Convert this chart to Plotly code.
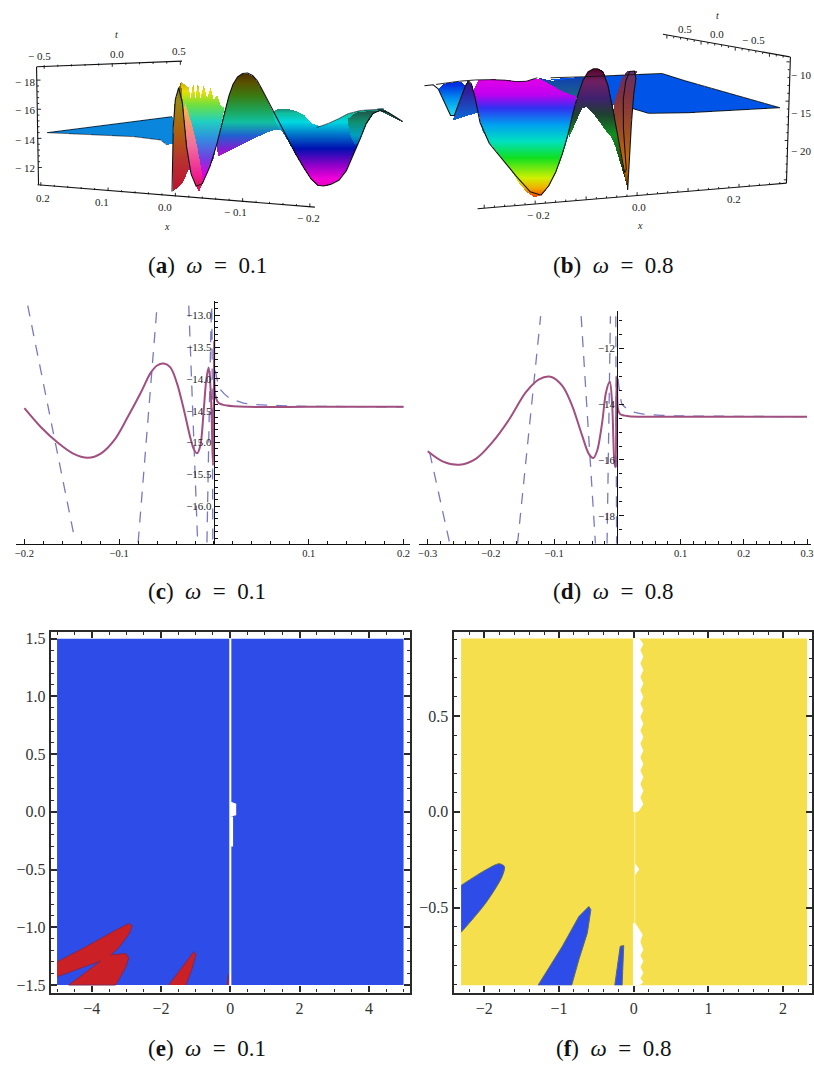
import numpy as np
import plotly.graph_objects as go

W, H = 814, 1068
FONT = "Liberation Serif"

# ---------- panel (c) values
c_solid_x = [-0.2,-0.1825,-0.165,-0.149,-0.133,-0.119,-0.105,-0.091,-0.077,-0.067,-0.06,-0.053,-0.046,-0.039,-0.032,-0.025,-0.0214,-0.0179,-0.0144,-0.011,-0.008,-0.0056,-0.0032,-0.001,0.0,0.0003,0.0014,0.005,0.0137,0.035,0.1,0.2]
c_solid_y = [-14.46,-14.76,-15.0,-15.17,-15.24,-15.17,-14.96,-14.60,-14.21,-13.91,-13.79,-13.76,-13.82,-14.07,-14.47,-14.92,-15.10,-15.17,-15.05,-14.53,-14.0,-13.82,-14.26,-15.36,-14.2,-13.4,-14.26,-14.38,-14.42,-14.44,-14.44,-14.44]
c_dash_x = [-0.1965,-0.147,None,-0.08,-0.06,None,-0.0266,-0.0172,None,-0.0074,-0.0025,-0.0012,None,0.0014,0.006,0.016,0.031,0.05,0.07,0.09,0.2]
c_dash_y = [-12.85,-16.51,None,-16.57,-12.85,None,-12.85,-16.57,None,-16.57,-12.85,-16.57,None,-13.87,-14.15,-14.3,-14.38,-14.41,-14.42,-14.43,-14.44]

# ---------- panel (d) values
d_solid_x = [-0.3,-0.2757,-0.25,-0.224,-0.198,-0.171,-0.145,-0.124,-0.1056,-0.087,-0.0715,-0.0557,-0.045,-0.038,-0.032,-0.024,-0.018,-0.012,-0.0084,-0.0047,-0.003,-0.0016,-0.0005,0.001,0.0047,0.018,0.049,0.3]
d_solid_y = [-15.69,-16.06,-16.17,-15.96,-15.37,-14.54,-13.58,-13.11,-13.02,-13.35,-14.06,-15.13,-15.79,-15.93,-15.67,-14.65,-13.58,-13.2,-13.94,-16.08,-16.26,-13.7,-13.0,-14.18,-14.36,-14.43,-14.45,-14.45]
d_dash_x = [-0.297,-0.265,None,-0.158,-0.1214,None,-0.0573,-0.0347,None,-0.0163,-0.011,None,-0.0025,-0.0012,None,0.001,0.0074,0.02,0.0415,0.07,0.0914,0.3]
d_dash_y = [-15.73,-19.0,None,-19.0,-10.85,None,-10.85,-19.0,None,-19.0,-10.85,None,-10.85,-19.0,None,-13.1,-14.0,-14.24,-14.36,-14.4,-14.42,-14.45]

# ---------- panel (e) regions
e_x_lim = [-5, 5]
e_y_lim = [-1.5, 1.5]
e_red1_x = [-5,-4.22,-3.36,-2.93,-2.83,-2.93,-3.22,-3.45,-3.02,-2.93,-3.02,-3.31,-4.66,-3.74,-5]
e_red1_y = [-1.30,-1.177,-1.033,-0.967,-0.99,-1.062,-1.177,-1.24,-1.226,-1.264,-1.35,-1.5,-1.5,-1.292,-1.428]
e_red2_x = [-1.775,-1.055,-0.99,-1.11,-1.28]
e_red2_y = [-1.5,-1.212,-1.235,-1.365,-1.5]
e_red3_x = [-0.09,-0.06,-0.02]
e_red3_y = [-1.5,-1.41,-1.5]
e_gap_x = [-0.03,-0.03,0.03,0.03,0.08,0.08,0.03,0.03]
e_gap_y = [1.5,-1.5,-1.5,-0.30,-0.30,-0.04,-0.04,1.5]
e_gap2_x = [0.0,0.17,0.17,0.0]
e_gap2_y = [-0.04,-0.03,0.07,0.09]

# ---------- panel (f) regions
f_x_lim = [-2.31, 2.32]
f_y_lim = [-0.905, 0.905]
f_blue1_x = [-2.31,-1.98,-1.80,-1.73,-1.76,-1.98,-2.31]
f_blue1_y = [-0.384,-0.303,-0.271,-0.285,-0.337,-0.476,-0.629]
f_blue2_x = [-1.28,-0.955,-0.733,-0.6,-0.573,-0.62,-0.733,-0.83]
f_blue2_y = [-0.905,-0.702,-0.546,-0.494,-0.511,-0.632,-0.771,-0.905]
f_blue3_x = [-0.253,-0.18,-0.133,-0.155]
f_blue3_y = [-0.905,-0.702,-0.698,-0.905]
f_gap_right_x = [0.08,0.13,0.09,0.13,0.09,0.13,0.09,0.13,0.09,0.13,0.09,0.13,0.09,0.13,0.09,0.13,0.09,0.13,0.09,0.13,0.09,0.13,0.09,0.13,0.09,0.13,0.07,0.02,
                 0.02,0.075,0.02,0.02,0.12,0.09,0.13,0.09,0.13,0.09,0.13,0.09,0.13,0.08]
f_gap_right_y = [0.905,0.875,0.845,0.81,0.775,0.74,0.705,0.67,0.635,0.60,0.565,0.53,0.495,0.46,0.425,0.39,0.355,0.32,0.285,0.25,0.215,0.18,0.145,0.11,0.075,0.04,0.005,-0.005,
                 -0.27,-0.30,-0.33,-0.58,-0.64,-0.68,-0.72,-0.75,-0.78,-0.81,-0.84,-0.87,-0.89,-0.905]
f_gap_left_x = [-0.01,-0.01,0.012,0.012,-0.01,-0.01]
f_gap_left_y = [-0.905,-0.58,-0.58,0.0,0.0,0.905]

# ---------- panel (a) surface patches, height read on the projected plane
a_wedge_u = [140,515,520,500,480,400]
a_wedge_v = [393,345,425,430,415,405]
a_left_u = [515,520,540,565,548,530]
a_left_v = [570,310,240,500,540,560]
a_comb_u = [540,565,570,578,585,592,600,610,620,630,640,650,660,672,640,595,565]
a_comb_v = [240,258,290,245,290,243,290,250,290,258,295,280,310,320,470,572,500]
a_pink_u = [545,565,595,610,585]
a_pink_v = [270,500,572,540,400]
a_peak_u = [640,680,705,735,765,790,850,835,790,700]
a_peak_v = [470,300,230,210,225,270,390,380,395,440]
a_trough_u = [815,900,950,1000,1060,1150,1110,1070,1030,980,945,900,850,830]
a_trough_v = [318,325,378,360,328,322,340,440,530,555,550,480,390,370]
a_right_u = [1040,1150,1110,1070,1050]
a_right_v = [335,322,340,440,400]
a_tail_u = [1135,1155,1210,1180]
a_tail_v = [322,322,360,345]
a_front_u = [515,520,540,565,595,640,680,705,735,765,790,850,900,945,980,1030,1070,1110,1150,1210]
a_front_v = [570,310,240,500,572,470,300,230,210,225,270,390,480,550,555,530,440,340,322,360]
a_back_u = [950,1000,1060,1150]
a_back_v = [378,360,328,322]

# ---------- panel (b) surface patches
b_flat_u = [425,525,760,830,1115,840,720,670,615,600]
b_flat_v = [232,225,215,237,318,333,335,320,310,300]
b_lobe_u = [80,175,150,130,105]
b_lobe_v = [248,235,300,355,300]
b_dark_u = [175,130,210,190]
b_dark_v = [235,355,330,250]
b_back_u = [385,430,525,525,505,430]
b_back_v = [228,238,228,305,290,260]
b_main_u = [185,270,340,385,430,480,505,470,430,385,340,300,220,210]
b_main_v = [238,233,242,228,255,280,285,430,540,595,565,500,400,350]
b_peak_u = [470,500,530,560,590,620,657,640,610,590,555,525,505]
b_peak_v = [430,300,215,197,215,360,565,510,410,390,340,310,350]
b_thin_u = [657,625,615,640,655,685,672]
b_thin_v = [565,400,310,230,210,207,300]
b_front_u = [45,80,105,130,150,175,190,220,300,385,430,470,500,530,560,590,620,657,640,655,685,672,657]
b_front_v = [252,248,300,355,300,235,250,400,500,595,540,430,300,215,197,215,360,565,320,210,207,300,565]
b_edge_u = [425,525,760,830,1115,840,720,670]
b_edge_v = [228,225,215,237,318,333,335,320]
b_edge2_u = [80,175,270,340,385]
b_edge2_v = [248,235,233,242,228]

# ---------- tick labels
a_x_ticks = [0.2,0.1,0.0,-0.1,-0.2]
a_t_ticks = [-0.5,0.0,0.5]
a_z_ticks = [-18,-16,-14,-12]
b_x_ticks = [-0.2,0.0,0.2]
b_t_ticks = [0.5,0.0,-0.5]
b_z_ticks = [-10,-15,-20]
captions = [("a",207,264),("b",615,264),("c",207,591),("d",615,591),("e",207,1049),("f",615,1049)]
caption_omega = ["0.1","0.8","0.1","0.8","0.1","0.8"]

fig = go.Figure()
layout = dict(width=W, height=H, margin=dict(l=0,r=0,t=0,b=0), autosize=False,
              paper_bgcolor="white", plot_bgcolor="rgba(0,0,0,0)", showlegend=False,
              font=dict(family=FONT, color="#222"))
ann = []

def dx(p0, p1): return [p0/W, min(p1/W,1.0)]
def dy(p_top, p_bot): return [1-p_bot/H, 1-p_top/H]

# ---- skew panels a / b live on a projected plane measured in thirds of a pixel
for name, left, width in (("1",0,410),("2",410,404)):
    layout["xaxis"+name] = dict(domain=dx(left,left+width), range=[0,width*3], visible=False, anchor="y"+name)
    layout["yaxis"+name] = dict(domain=dy(0,240), range=[720,0], visible=False, anchor="x"+name)

def round_corners(pu, pv, closed=True, passes=2):
    """Corner rounding of an outline, as the surface mesh is a smooth sheet."""
    u, v = list(pu), list(pv)
    for _ in range(passes):
        nu, nv = [], []
        n = len(u)
        if not closed:
            nu.append(u[0]); nv.append(v[0])
        for i in range(n if closed else n-1):
            j = (i+1) % n
            nu += [0.75*u[i]+0.25*u[j], 0.25*u[i]+0.75*u[j]]
            nv += [0.75*v[i]+0.25*v[j], 0.25*v[i]+0.75*v[j]]
        if not closed:
            nu.append(u[-1]); nv.append(v[-1])
        u, v = nu, nv
    return u, v

def inside(uu, vv, pu, pv):
    res = np.zeros(uu.shape, bool)
    n = len(pu)
    for i in range(n):
        u1,v1,u2,v2 = pu[i],pv[i],pu[(i+1)%n],pv[(i+1)%n]
        if v1 == v2: continue
        cond = ((v1 > vv) != (v2 > vv)) & (uu < (u2-u1)*(vv-v1)/(v2-v1)+u1)
        res ^= cond
    return res

def patch(ax, pu, pv, stops, height, passes=1):
    """Surface patch: height colours via the trace's colorscale."""
    pu, pv = round_corners(pu, pv, True, passes)
    us = np.arange(min(pu), max(pu)+3, 3.0)
    vs = np.arange(min(pv), max(pv)+3, 3.0)
    uu, vv = np.meshgrid(us, vs)
    z = np.round(height(vv), 2).astype(object)
    z[~inside(uu, vv, pu, pv)] = None
    hs = [float(height(np.array(s[0],float))) for s in stops]
    lo, hi = min(hs), max(hs)
    if lo == hi: hi = lo+1
    cs = sorted([[(h-lo)/(hi-lo), s[1]] for h, s in zip(hs, stops)], key=lambda c: c[0])
    fig.add_trace(go.Heatmap(x=us, y=vs, z=z.tolist(), colorscale=cs, zmin=lo, zmax=hi,
                             showscale=False, hoverinfo="skip", xaxis="x"+ax, yaxis="y"+ax))

def line(ax, u, v, color="black", w=1.2):
    fig.add_trace(go.Scatter(x=u, y=v, mode="lines", line=dict(color=color, width=w),
                             hoverinfo="skip", xaxis="x"+ax, yaxis="y"+ax, connectgaps=False))

def edge(ax, u, v, color="#111", w=1.1, passes=1):
    ru, rv = round_corners(u, v, False, passes)
    line(ax, ru, rv, color, w)

def skew_axis(ax, p0, p1, v0, v1, step, tick, major_every=5):
    """axis line from value v0 at p0 to value v1 at p1, with ticks every `step`."""
    n = int(round(abs(v1-v0)/step))
    us, vs = [], []
    for i in range(n+1):
        f = i/n
        u = p0[0]+(p1[0]-p0[0])*f; v = p0[1]+(p1[1]-p0[1])*f
        k = 1.0 if i % major_every == 0 else 0.55
        us += [u, u+tick[0]*k, None]; vs += [v, v+tick[1]*k, None]
    line(ax, us, vs, "#111", 0.9)

def label(ax, u, v, text, size=11, italic=False):
    ann.append(dict(x=u, y=v, xref="x"+ax, yref="y"+ax, text=("<i>%s</i>"%text if italic else text),
                    showarrow=False, font=dict(size=size, family=FONT, color="#222"),
                    xanchor="center", yanchor="middle"))

def fmt(v, d=1):
    s = f"{abs(v):.{d}f}"
    return ("\u2212 "+s) if v < 0 else s

# panel a
ah = lambda v: -18+(v-235)*6/263
patch("1", a_wedge_u, a_wedge_v, [(300,"#0a86dc"),(500,"#0a86dc")], ah, 0)
patch("1", a_comb_u, a_comb_v, [(240,"#d0a020"),(270,"#e8e000"),(310,"#70e040"),(360,"#20d0c0"),(410,"#3090e0"),(470,"#7040e0"),(520,"#e000e0"),(572,"#e81060")], ah, 0)
patch("1", a_pink_u, a_pink_v, [(270,"#f0e040"),(350,"#f8a060"),(430,"#f070a0"),(520,"#f02090"),(572,"#d01040")], ah)
patch("1", a_peak_u, a_peak_v, [(210,"#4a2800"),(240,"#5a5000"),(280,"#3a7a10"),(320,"#20a050"),(360,"#10c0a0"),(400,"#2060d0"),(440,"#8020d0"),(470,"#d010c0")], ah)
patch("1", a_trough_u, a_trough_v, [(318,"#208070"),(335,"#10c0a0"),(360,"#00d8e0"),(400,"#0070c8"),(440,"#0010b0"),(490,"#9000c8"),(530,"#f000d8"),(555,"#e800c0")], ah)
patch("1", a_right_u, a_right_v, [(320,"#204a40"),(360,"#109070"),(400,"#00a0c0"),(440,"#0040c0")], ah)
patch("1", a_tail_u, a_tail_v, [(300,"#1a5a50"),(400,"#1a5a50")], ah, 0)
patch("1", a_left_u, a_left_v, [(240,"#7a6a00"),(300,"#9a8a10"),(400,"#b05a10"),(480,"#b83030"),(570,"#c01030")], ah, 0)
edge("1", a_front_u, a_front_v)
edge("1", a_back_u, a_back_v, "#123", 0.7)
line("1", [140,515], [393,345], "#123", 0.9)
line("1", [140,400,480,500], [393,405,415,430], "#123", 0.7)
# axes a
line("1", [108,545], [195,178], "#111", 1.1)
line("1", [107,113], [195,550], "#111", 1.1)
line("1", [110,945], [550,617], "#111", 1.1)
skew_axis("1", (120,553), (930,617), 0.2, -0.2, 0.02, (0,-11))
skew_axis("1", (130,190), (540,178), -0.5, 0.5, 0.1, (0,11))
skew_axis("1", (108,235), (112,498), -18, -12, 0.4, (11,0))
for v,u_,y_ in zip(a_x_ticks,[125,305,495,705,925],[590,602,617,632,650]):
    label("1",u_,y_,fmt(v))
for v,u_,y_ in zip(a_t_ticks,[115,350,537],[163,157,148]):
    label("1",u_,y_,fmt(v))
for v,y_ in zip(a_z_ticks,[240,325,414,498]):
    label("1",72,y_,fmt(v,0))
label("1",348,98,"t",10,True)
label("1",500,676,"x",10,True)

# panel b
bh = lambda v: -10-(v-217)*10/230
patch("2", b_flat_u, b_flat_v, [(200,"#0055e8"),(340,"#0055e8")], bh, 0)
patch("2", b_back_u, b_back_v, [(228,"#1040b0"),(305,"#207080")], bh, 0)
patch("2", b_lobe_u, b_lobe_v, [(248,"#0030e0"),(290,"#0090f0"),(340,"#20e0f0"),(355,"#30e8f0")], bh)
patch("2", b_dark_u, b_dark_v, [(235,"#401080"),(270,"#3020a0"),(340,"#1060d0")], bh, 0)
patch("2", b_main_u, b_main_v, [(235,"#e000e8"),(280,"#c000f0"),(320,"#3030f0"),(370,"#00a0f0"),(420,"#00e0c0"),(470,"#10e020"),(530,"#d0f000"),(560,"#f0b000"),(595,"#f02000")], bh)
patch("2", b_peak_u, b_peak_v, [(197,"#500020"),(240,"#702060"),(290,"#402070"),(340,"#204030"),(400,"#109020"),(565,"#201000")], bh)
patch("2", b_thin_u, b_thin_v, [(207,"#603070"),(280,"#803040"),(400,"#a05020"),(500,"#d07000"),(565,"#302000")], bh, 0)
line("2", b_edge_u, b_edge_v, "#111", 0.9)
edge("2", b_edge2_u, b_edge2_v, "#111", 0.9)
edge("2", b_front_u, b_front_v)
# axes b
line("2", [763,1145], [97,165], "#111", 1.1)
line("2", [1147,1135], [165,545], "#111", 1.1)
line("2", [205,1135], [622,545], "#111", 1.1)
skew_axis("2", (225,620), (1115,547), -0.28, 0.3, 0.02, (0,-10))
skew_axis("2", (775,100), (1125,162), 0.9, -0.8, 0.1, (0,10))
skew_axis("2", (1145,180), (1137,535), -8.5, -23.5, 1.0, (-10,0))
for v,u_,y_ in zip(b_x_ticks,[388,692,977],[640,617,592]):
    label("2",u_,y_,fmt(v))
for v,u_,y_ in zip(b_t_ticks,[830,925,1035],[80,95,115]):
    label("2",u_,y_,fmt(v))
for v,y_ in zip(b_z_ticks,[220,335,447]):
    label("2",1180,y_,fmt(v,0))
label("2",927,42,"t",10,True)
label("2",693,672,"x",10,True)

# ---- line panels
def line_axes(ix, iy, px0, px1, top, bot, xr, yr, zero_px, xt, yt, ydec, xminor, yminor):
    layout["xaxis"+ix] = dict(domain=dx(px0,px1), range=xr, anchor="y"+ix, showgrid=False, zeroline=False, showline=True,
        linecolor="#111", linewidth=1.2, ticks="inside", ticklen=5, tickwidth=1, tickcolor="#111", tickvals=xt,
        tickformat=".1f", tickfont=dict(size=10.5, family=FONT, color="#222"),
        minor=dict(ticks="inside", ticklen=3, tickwidth=1, tickcolor="#111", dtick=xminor, showgrid=False))
    layout["yaxis"+iy] = dict(domain=dy(top,bot), range=yr, anchor="free", position=zero_px/W, showgrid=False, zeroline=False, showline=True,
        linecolor="#111", linewidth=1.2, ticks="inside", ticklen=5, tickwidth=1, tickcolor="#111", tickvals=yt,
        tickformat=ydec, tickfont=dict(size=11, family=FONT, color="#222"),
        minor=dict(ticks="inside", ticklen=3, tickwidth=1, tickcolor="#111", dtick=yminor, showgrid=False))

PX_C = (-0.2+(15-23.5)/951.0, 0.2+(411-404)/951.0)
line_axes("3","3",15,411,300,543.3,list(PX_C),[-16.59,-12.78],213.7,[-0.2,-0.1,0.1,0.2],[-16,-15.5,-15,-14.5,-14,-13.5,-13],".1f",0.02,0.1)
PX_D = (-0.3+(420-428.3)/634.4, 0.3+(813-809)/634.4)
line_axes("4","4",420,813,310,543.3,list(PX_D),[-19.0,-10.67],618.7,[-0.3,-0.2,-0.1,0.1,0.2,0.3],[-18,-16,-14,-12],".0f",0.02,0.5)
DASH = "rgba(105,105,190,0.9)"
SOLID = "#a04f7f"
for ix,dxv,dyv,sx,sy in (("3",c_dash_x,c_dash_y,c_solid_x,c_solid_y),("4",d_dash_x,d_dash_y,d_solid_x,d_solid_y)):
    fig.add_trace(go.Scatter(x=dxv,y=dyv,mode="lines",line=dict(color=DASH,width=1.3,dash="11px,9px",shape="spline",smoothing=0.5),xaxis="x"+ix,yaxis="y"+ix,hoverinfo="skip"))
    fig.add_trace(go.Scatter(x=sx,y=sy,mode="lines",line=dict(color=SOLID,width=2,shape="spline",smoothing=0.9),xaxis="x"+ix,yaxis="y"+ix,hoverinfo="skip"))

# ---- region panels
def frame_axes(i, px0, px1, top, bot, xr, yr, xt, yt, xm, ym):
    common = dict(showgrid=False, zeroline=False, showline=True, mirror="ticks", linecolor="#2a2a2a", linewidth=2.2,
                  ticks="inside", ticklen=6, tickwidth=1.5, tickcolor="#2a2a2a",
                  tickformat=".1f", tickfont=dict(size=16, family=FONT, color="#333"))
    layout["xaxis"+i] = dict(common, domain=dx(px0,px1), range=xr, anchor="y"+i, tickvals=xt, tickformat="d",
                             minor=dict(ticks="inside", ticklen=3, tickwidth=1.2, tickcolor="#2a2a2a", dtick=xm, showgrid=False))
    layout["yaxis"+i] = dict(common, domain=dy(top,bot), range=yr, anchor="x"+i, tickvals=yt,
                             minor=dict(ticks="inside", ticklen=3, tickwidth=1.2, tickcolor="#2a2a2a", dtick=ym, showgrid=False))

frame_axes("5",50,411,632,993.3,[-5.18,5.2],[-1.565,1.556],[-4,-2,0,2,4],[-1.5,-1,-0.5,0,0.5,1,1.5],0.5,0.1)
frame_axes("6",454.3,814,632,993.3,[-2.41,2.387],[-0.943,0.9375],[-2,-1,0,1,2],[-0.5,0,0.5],0.2,0.1)

def poly(i, x, y, fill, edge_c=None, curved=0):
    ln = dict(color=edge_c or fill, width=1 if edge_c else 0)
    if curved:
        ln.update(shape="spline", smoothing=curved)
    fig.add_trace(go.Scatter(x=x, y=y, mode="lines", fill="toself", fillcolor=fill, line=ln,
                             xaxis="x"+i, yaxis="y"+i, hoverinfo="skip"))

BLUE = "#2e4de8"; RED = "#cc2027"; YEL = "#f5df4d"; EDGE_R = "#7a2a55"; EDGE_B = "#5a6a70"
ex0,ex1 = e_x_lim; ey0,ey1 = e_y_lim
poly("5",[ex0,ex1,ex1,ex0],[ey0,ey0,ey1,ey1],BLUE)
poly("5",e_red1_x,e_red1_y,RED,EDGE_R)
poly("5",e_red2_x,e_red2_y,RED,EDGE_R)
poly("5",e_red3_x,e_red3_y,RED,EDGE_R)
poly("5",e_gap_x,e_gap_y,"white")
poly("5",e_gap2_x,e_gap2_y,"white")
fx0,fx1 = f_x_lim; fy0,fy1 = f_y_lim
poly("6",[fx0,fx1,fx1,fx0],[fy0,fy0,fy1,fy1],YEL)
poly("6",f_blue1_x,f_blue1_y,BLUE,EDGE_B,0.8)
poly("6",f_blue2_x,f_blue2_y,BLUE,EDGE_B)
poly("6",f_blue3_x,f_blue3_y,BLUE,EDGE_B)
poly("6",f_gap_left_x+f_gap_right_x,f_gap_left_y+f_gap_right_y,"white")

# ---- captions
for (c,cx,cy),om in zip(captions,caption_omega):
    ann.append(dict(x=cx/W,y=1-cy/H,xref="paper",yref="paper",showarrow=False,xanchor="center",yanchor="middle",
                    text=f"(<b>{c}</b>)\u2002<i>\u03c9</i>\u2002=\u20020.{om[-1]}",font=dict(size=23,family=FONT,color="#111")))

layout["annotations"] = ann
fig.update_layout(**layout)
fig.write_html("out.html", config=dict(displayModeBar=False), post_script="document.body.style.margin='0';")
